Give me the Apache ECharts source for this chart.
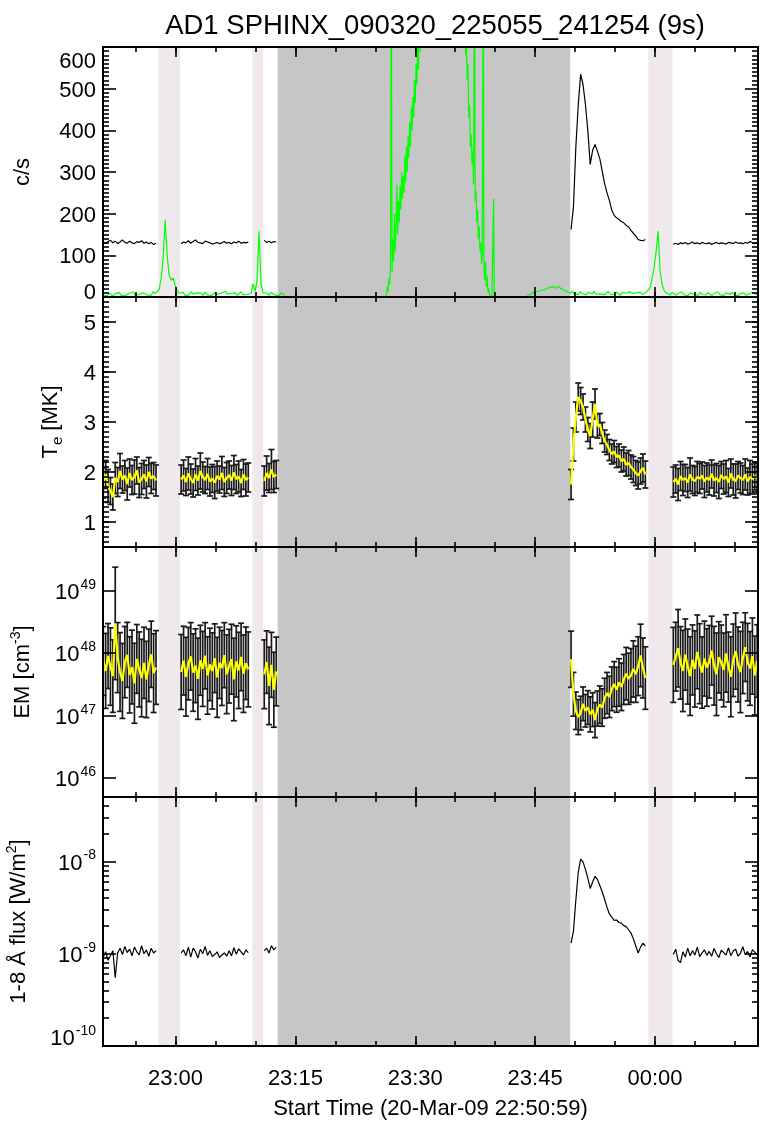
<!DOCTYPE html>
<html><head><meta charset="utf-8">
<script src="https://cdn.jsdelivr.net/npm/echarts@6/dist/echarts.min.js"></script>
<style>html,body{margin:0;padding:0;background:#fff}#c{width:760px;height:1123px}</style>
</head><body><div id="c"></div>
<script>
const FONT = '"Liberation Sans", Arial, Helvetica, sans-serif';
const TITLE = 'AD1 SPHINX_090320_225055_241254 (9s)';
const X_TITLE = 'Start Time (20-Mar-09 22:50:59)';

const XMIN = 50.917, XMAX = 132.9;
const tickTimes = [60, 75, 90, 105, 120];
const tickLabels = ['23:00', '23:15', '23:30', '23:45', '00:00'];
const minorTimes = [55, 65, 70, 80, 85, 95, 100, 110, 115, 125, 130];

const lightBands = [[57.84, 60.55], [69.60, 70.98], [119.16, 122.22]];
const darkBands = [[72.78, 109.40]];

const STEP = 0.3;
const segStart = [50.95, 60.7, 71.1, 109.5, 122.3];
const segCount = [23, 29, 6, 32, 36];

const counts = [
  131,129,133,136,130,134,128,132,137,131,129,134,130,128,133,131,135,129,132,128,131,126,129,
  128,132,130,135,129,133,137,131,130,128,134,132,130,127,129,131,128,130,133,129,131,128,132,130,134,129,131,130,132,
  136,131,134,130,133,132,
  162,215,360,460,535,510,462,400,318,352,366,350,332,302,272,250,232,208,196,190,186,181,178,172,168,160,153,146,138,136,135,138,
  127,129,126,130,128,131,127,129,132,128,130,127,131,129,128,130,126,129,131,128,130,129,127,131,130,128,132,129,130,128,131,129,133,130,128,131
];
const te = [
  1.78,1.95,1.72,1.62,1.50,1.88,1.80,2.02,1.85,1.93,1.76,1.98,1.84,1.90,2.03,1.79,1.86,1.95,1.81,2.00,1.87,1.92,1.83,
  1.85,1.93,1.80,1.97,1.86,1.78,1.95,1.83,2.02,1.90,1.84,1.96,1.81,1.87,1.79,1.92,1.85,1.98,1.80,1.88,1.94,1.83,1.99,1.86,1.91,1.78,1.95,1.84,1.89,
  1.82,1.98,1.88,2.05,1.90,1.95,
  1.75,2.55,3.10,3.50,3.42,3.30,3.05,2.85,2.72,3.05,3.36,2.92,2.95,2.78,2.62,2.55,2.44,2.36,2.41,2.30,2.33,2.22,2.26,2.15,2.18,2.10,2.05,1.98,1.93,2.02,2.08,1.95,
  1.80,1.86,1.75,1.92,1.84,1.88,1.79,1.95,1.85,1.82,1.90,1.87,1.93,1.81,1.89,1.84,1.96,1.83,1.88,1.80,1.94,1.86,1.91,1.79,1.97,1.85,1.82,1.93,1.88,1.84,1.95,1.81,1.90,1.86,1.92,1.87
];
const teErr = [
  0.30,0.28,0.33,0.27,0.26,0.31,0.29,0.35,0.27,0.30,0.32,0.28,0.29,0.34,0.27,0.30,0.31,0.28,0.33,0.29,0.30,0.27,0.31,
  0.29,0.31,0.27,0.33,0.30,0.28,0.32,0.29,0.36,0.30,0.27,0.31,0.29,0.28,0.32,0.30,0.27,0.33,0.29,0.31,0.28,0.30,0.34,0.29,0.31,0.27,0.30,0.32,0.29,
  0.30,0.34,0.29,0.40,0.31,0.28,
  0.30,0.33,0.30,0.28,0.27,0.26,0.25,0.24,0.25,0.35,0.30,0.24,0.22,0.21,0.22,0.20,0.21,0.20,0.22,0.21,0.23,0.22,0.24,0.23,0.25,0.24,0.26,0.25,0.27,0.26,0.28,0.27,
  0.30,0.28,0.32,0.29,0.31,0.27,0.30,0.33,0.28,0.29,0.31,0.30,0.27,0.32,0.29,0.30,0.28,0.31,0.29,0.33,0.27,0.30,0.32,0.28,0.29,0.31,0.34,0.28,0.30,0.29,0.31,0.27,0.33,0.30,0.28,0.31
];
const em47 = [
  7.5,5.2,9.0,6.1,4.3,30,8.5,5.0,3.6,7.2,9.4,4.5,6.0,3.3,8.1,5.5,4.0,7.0,3.8,6.4,9.6,4.8,5.9,
  5.0,7.6,4.2,6.8,8.9,4.9,6.3,3.9,7.7,5.6,9.1,4.4,6.6,5.2,8.3,4.1,7.0,5.8,9.3,4.6,6.2,8.0,3.8,7.4,5.3,8.7,4.7,6.9,5.5,
  4.6,7.2,3.0,6.5,2.6,5.1,
  8.0,2.2,1.2,0.95,1.10,1.55,1.20,1.35,1.05,1.25,0.85,1.30,1.50,1.35,1.90,2.30,2.00,2.70,3.20,2.60,3.40,2.90,3.80,4.70,3.90,4.40,5.60,4.60,6.20,9.20,5.80,4.00,
  6.5,8.8,12.0,7.0,5.2,9.5,6.1,4.3,7.8,5.6,10.5,6.8,4.9,8.2,5.9,7.3,11.0,6.3,4.6,8.6,7.1,5.4,9.9,6.0,4.2,7.7,10.8,6.6,5.0,8.4,12.5,7.2,5.7,9.0,4.4,7.5
];
const emErrDex = [
  0.55,0.60,0.52,0.62,0.58,0.90,0.56,0.63,0.60,0.57,0.52,0.61,0.59,0.64,0.55,0.60,0.62,0.57,0.61,0.58,0.53,0.63,0.59,
  0.60,0.55,0.63,0.58,0.54,0.62,0.59,0.65,0.56,0.60,0.53,0.62,0.58,0.61,0.55,0.64,0.57,0.60,0.52,0.63,0.59,0.56,0.66,0.57,0.61,0.54,0.62,0.58,0.60,
  0.55,0.50,0.62,0.52,0.60,0.55,
  0.45,0.35,0.30,0.28,0.27,0.27,0.26,0.27,0.28,0.27,0.28,0.28,0.30,0.30,0.32,0.33,0.33,0.35,0.36,0.36,0.38,0.38,0.40,0.42,0.41,0.43,0.45,0.45,0.47,0.50,0.48,0.50,
  0.60,0.55,0.62,0.58,0.65,0.57,0.60,0.63,0.56,0.61,0.59,0.64,0.57,0.60,0.62,0.58,0.55,0.63,0.66,0.57,0.60,0.59,0.62,0.56,0.64,0.58,0.61,0.60,0.65,0.57,0.55,0.62,0.59,0.61,0.63,0.58
];
const flux9 = [
  0.92,1.05,0.85,0.95,1.08,0.55,1.02,1.15,0.98,1.20,1.03,1.12,0.95,1.18,1.05,0.97,1.22,1.00,1.10,0.94,1.15,1.02,1.08,
  1.02,1.10,0.95,1.18,0.92,1.15,1.05,0.90,1.12,1.00,1.20,0.96,1.08,0.93,0.98,1.05,0.91,0.97,1.02,0.94,1.08,0.95,1.16,0.99,1.13,1.05,0.97,1.10,1.03,
  1.08,1.15,1.02,1.22,1.10,1.17,
  1.30,1.75,3.80,7.60,10.6,9.9,8.2,6.6,5.1,6.0,6.9,6.4,5.5,4.7,3.9,3.2,2.7,2.50,2.30,2.32,2.18,2.15,2.02,1.97,1.82,1.68,1.45,1.22,1.02,1.18,1.30,1.22,
  0.98,1.12,0.85,0.80,1.05,0.92,1.15,0.95,1.08,0.97,1.18,0.93,1.02,1.10,0.96,1.06,0.94,1.14,1.00,0.91,1.09,1.03,0.97,1.16,0.95,1.07,1.12,0.94,1.01,1.19,0.98,1.06,0.92,1.11,1.04,0.97
];
const fluxLevel = 3.8e-9;

const greenStart = [50.95, 86.3, 95.8, 103.9];
const greenStep = [0.25, 0.1, 0.1, 0.25];
const greenQuiet1 = [
  4,7,3,9,5,2,8,6,11,4,7,3,6,9,5,12,4,8,6,3,10,7,5,9,4,13,8,
  12,18,45,95,185,100,52,40,46,28,16,
  9,6,11,4,8,5,13,7,3,10,6,9,4,12,5,8,3,7,11,6,4,9,5,14,7,3,8,6,10,4,7,12,5,9,6,8,
  8,32,14,40,158,30,10,
  6,9,4,11,7,5,8,3,10,6,4
];
const greenRise = [
  0,8,25,12,45,30,70,900,60,140,85,200,110,175,270,150,230,180,265,210,
  300,235,290,250,340,275,360,300,385,335,420,360,455,400,480,430,520,465,560,510,
  600,545,640,590,680,650,760,820
];
const greenFall = [
  820,700,760,640,690,580,620,520,560,430,460,360,390,320,350,270,900,230,255,180,
  210,140,170,110,130,80,105,900,70,40,85,25,50,10,20,4,0,0,0,0,235,0,0
];
const greenQuiet2 = [
  6,9,5,11,8,13,10,15,12,18,16,22,19,25,28,21,26,23,18,20,14,
  12,9,14,7,11,6,13,8,10,5,12,9,7,14,6,10,8,11,5,9,13,7,10,6,12,8,4,11,7,9,6,13,8,5,10,7,12,6,9,11,
  14,22,45,72,110,158,60,30,16,10,
  8,5,11,7,4,9,6,12,5,8,3,10,7,6,9,4,11,6,8,5,10,7,3,9,6,12,5,8,4,10,7,6,11,5,9,3,8,6,10,4,7,9,5,11,6,8
];

const times = [];
segStart.forEach((s, i) => { for (let k = 0; k < segCount[i]; k++) times.push(+(s + k * STEP).toFixed(3)); });
function lineData(vals, scale) {
  const out = []; let idx = 0;
  segCount.forEach((n, si) => {
    if (si) out.push([segStart[si] - 0.05, '-']);
    for (let k = 0; k < n; k++) { out.push([times[idx], vals[idx] * scale]); idx++; }
  });
  return out;
}
const greenSegs = [greenQuiet1, greenRise, greenFall, greenQuiet2];
const greenData = [];
greenSegs.forEach((seg, si) => {
  if (si) greenData.push([greenStart[si] - 0.05, '-']);
  seg.forEach((v, k) => greenData.push([+(greenStart[si] + k * greenStep[si]).toFixed(3), v]));
});
const teBars = times.map((t, i) => [t, te[i] - teErr[i], te[i] + teErr[i]]);
const emBars = times.map((t, i) => [t, em47[i] * 1e47 / Math.pow(10, emErrDex[i]), em47[i] * 1e47 * Math.pow(10, emErrDex[i])]);

const AX = '#000';
const GRID_L = 103, GRID_W = 655;
const gridTops = [47, 297, 547, 797];
const gridH = [250, 250, 250, 249];

const countMajor = [0, 100, 200, 300, 400, 500, 600];
const teMajor = [1, 2, 3, 4, 5];
const emMajor = [1e46, 1e47, 1e48, 1e49];
const fluxMajor = [1e-10, 1e-9, 1e-8];

const labRich = {
  b: {fontSize: 22, fontFamily: FONT, color: '#000', lineHeight: 26, verticalAlign: 'bottom'},
  s: {fontSize: 14, fontFamily: FONT, color: '#000', lineHeight: 26, verticalAlign: 'top', padding: [0, 0, 0, 1]},
  g26: {fontSize: 10, lineHeight: 26},
  g12: {fontSize: 10, lineHeight: 12},
  g18: {fontSize: 10, lineHeight: 18}
};
const nameRich = {
  sub: {fontSize: 15, fontFamily: FONT, color: '#000', verticalAlign: 'bottom', lineHeight: 28},
  sup: {fontSize: 14, fontFamily: FONT, color: '#000', verticalAlign: 'top', lineHeight: 28},
  n: {fontSize: 22, fontFamily: FONT, color: '#000', lineHeight: 28}
};
const pow10 = v => '{b|10}{s|' + Math.round(Math.log10(v)) + '}';

const yCfg = [
  {type: 'value', min: 0, max: 600, major: countMajor,
    fmt: v => v === 600 ? '{g26| }\n{b|600}' : (v === 0 ? '{b|0}\n{g12| }' : '{b|' + v + '}'),
    name: '{n|c/s}', gap: 66},
  {type: 'value', min: 0.5, max: 5.5, major: teMajor, fmt: v => '{b|' + v + '}',
    name: '{n|T}{sub|e}{n| [MK]}', gap: 38},
  {type: 'log', min: 5e45, max: 5e49, major: emMajor, fmt: pow10,
    name: '{n|EM [cm}{sup|-3}{n|]}', gap: 66},
  {type: 'log', min: 1e-10, max: 5e-8, major: fluxMajor,
    fmt: v => Math.round(Math.log10(v)) === -10 ? pow10(v) + '\n{g18| }' : pow10(v),
    name: '{n|1-8 Å flux [W/m}{sup|2}{n|]}', gap: 70}
];

function xAxesFor(gi, last) {
  const mk = pos => ({
    gridIndex: gi, type: 'value', min: XMIN, max: XMAX, z: 10, silent: true, position: pos,
    splitLine: {show: false},
    axisLine: {show: true, onZero: false, lineStyle: {color: AX, width: 2}},
    axisTick: {show: false},
    axisLabel: {show: false}
  });
  const axes = [mk('bottom'), mk('top')];
  if (last) {
    axes[0].axisLabel = {show: true, customValues: tickTimes, margin: 22, fontSize: 22, color: '#000', fontFamily: FONT,
      formatter: v => tickLabels[tickTimes.findIndex(t => Math.abs(t - v) < 1e-6)]};
    axes[0].name = X_TITLE;
    axes[0].nameLocation = 'middle';
    axes[0].nameGap = 52;
    axes[0].nameTextStyle = {fontSize: 22, color: '#000', fontFamily: FONT};
  }
  return axes;
}
function yAxesFor(gi) {
  const c = yCfg[gi];
  const mk = pos => ({
    gridIndex: gi, type: c.type, min: c.min, max: c.max, z: 10, silent: true, position: pos,
    splitLine: {show: false},
    axisLine: {show: true, onZero: false, lineStyle: {color: AX, width: 2}},
    axisTick: {show: false},
    axisLabel: {show: false}
  });
  const axes = [mk('left'), mk('right')];
  axes[0].axisLabel = {show: true, customValues: c.major, margin: 7, fontSize: 22, color: '#000', fontFamily: FONT,
    formatter: c.fmt, rich: labRich};
  axes[0].name = c.name;
  axes[0].nameLocation = 'middle';
  axes[0].nameGap = c.gap;
  axes[0].nameTextStyle = {fontSize: 22, color: '#000', fontFamily: FONT, rich: nameRich};
  return axes;
}
function mainGrids() {
  return gridTops.map((t, i) => ({left: GRID_L, top: t, width: GRID_W, height: gridH[i], containLabel: false, outerBoundsMode: 'none'}));
}
function mainX() { const a = []; for (let gi = 0; gi < 4; gi++) a.push(...xAxesFor(gi, gi === 3)); return a; }
function mainY() { const a = []; for (let gi = 0; gi < 4; gi++) a.push(...yAxesFor(gi)); return a; }

const yRef = [300, 3, 1e47, 1e-9];

function bandSeries(gi, bands, color) {
  return {
    type: 'custom', xAxisIndex: 2 * gi, yAxisIndex: 2 * gi, z: 1, silent: true, animation: false,
    encode: {x: [0, 1], y: 2},
    data: bands.map(b => [b[0], b[1], yRef[gi]]),
    renderItem: (params, api) => {
      const cs = params.coordSys;
      const xa = api.coord([api.value(0), api.value(2)])[0];
      const xb = api.coord([api.value(1), api.value(2)])[0];
      return {type: 'rect', shape: {x: xa, y: cs.y, width: xb - xa, height: cs.height}, style: {fill: color}};
    }
  };
}
function errSeries(gi, data) {
  return {
    type: 'custom', xAxisIndex: 2 * gi, yAxisIndex: 2 * gi, z: 3, silent: true, animation: false, clip: true,
    encode: {x: 0, y: [1, 2]},
    data,
    renderItem: (params, api) => {
      const t = api.value(0);
      const a = api.coord([t, api.value(1)]), b = api.coord([t, api.value(2)]);
      const w = 3, st = {stroke: '#1a1a1a', lineWidth: 1.7};
      return {type: 'group', children: [
        {type: 'line', shape: {x1: a[0], y1: a[1], x2: b[0], y2: b[1]}, style: st},
        {type: 'line', shape: {x1: a[0] - w, y1: a[1], x2: a[0] + w, y2: a[1]}, style: st},
        {type: 'line', shape: {x1: b[0] - w, y1: b[1], x2: b[0] + w, y2: b[1]}, style: st}
      ]};
    }
  };
}
function lineSeries(gi, data, color, width, z, extra) {
  return Object.assign({
    type: 'line', xAxisIndex: 2 * gi, yAxisIndex: 2 * gi, data, z, silent: true, animation: false,
    showSymbol: false, symbol: 'none', connectNulls: false, clip: true,
    lineStyle: {color, width}, itemStyle: {color}
  }, extra || {});
}

const series = [];
for (let gi = 0; gi < 4; gi++) {
  series.push(bandSeries(gi, darkBands, '#c6c6c6'));
  series.push(bandSeries(gi, lightBands, '#efe9ee'));
}
series.push(lineSeries(0, greenData, '#00ff00', 1.2, 3));
series.push(lineSeries(0, lineData(counts, 1), '#000', 1.2, 4));
series.push(errSeries(1, teBars));
series.push(lineSeries(1, lineData(te, 1), '#ffff00', 2.2, 4));
series.push(errSeries(2, emBars));
series.push(lineSeries(2, lineData(em47, 1e47), '#ffff00', 2.2, 4));
series.push(lineSeries(3, lineData(flux9, 1e-9), '#000', 1.2, 4, {
  markLine: {silent: true, symbol: 'none', animation: false, label: {show: false},
    lineStyle: {color: '#0000ff', width: 2.5, type: 'solid'}, data: [{yAxis: fluxLevel}]}
}));

const chart = echarts.init(document.getElementById('c'), null, {renderer: 'canvas', width: 760, height: 1123});
chart.setOption({
  backgroundColor: '#fff',
  animation: false,
  textStyle: {fontFamily: FONT},
  title: {text: TITLE, left: 430, top: 7, textAlign: 'center',
    textStyle: {fontSize: 27.5, fontWeight: 'normal', color: '#000', fontFamily: FONT}},
  grid: mainGrids(), xAxis: mainX(), yAxis: mainY(), series
});

// ---------- IDL-style inward tick marks ----------
// Each tick family is drawn by ECharts' own axis ticks (interval counted from min) on an
// overlay grid whose edges sit on the first and last tick of that family; the edges are
// read from the panel's own axis scale.
function pxX(t) {
  const p = chart.convertToPixel({gridIndex: 0}, [t, yRef[0]]);
  let x = Array.isArray(p) ? p[0] : NaN;
  if (!(x >= GRID_L - 1 && x <= GRID_L + GRID_W + 1)) x = GRID_L + (t - XMIN) / (XMAX - XMIN) * GRID_W;
  return x;
}
function pxY(gi, v) {
  const c = yCfg[gi], T = gridTops[gi], B = T + gridH[gi];
  const p = chart.convertToPixel({gridIndex: gi}, [tickTimes[2], v]);
  let y = Array.isArray(p) ? p[1] : NaN;
  if (!(y >= T - 1 && y <= B + 1)) {
    const f = c.type === 'log'
      ? (Math.log10(v) - Math.log10(c.min)) / (Math.log10(c.max) - Math.log10(c.min))
      : (v - c.min) / (c.max - c.min);
    y = B - f * (B - T);
  }
  return y;
}
const tickLine = {color: AX, width: 1.6};
const auxGrids = [], auxX = [], auxY = [];
let nGrid = 4;
function xTickGrid(gi, t0, t1, interval, len) {
  const g = nGrid++;
  const l = pxX(t0), r = pxX(t1);
  auxGrids.push({left: l, top: gridTops[gi], width: r - l, height: gridH[gi], containLabel: false, outerBoundsMode: 'none'});
  ['bottom', 'top'].forEach(pos => auxX.push({gridIndex: g, type: 'value', position: pos, min: t0, max: t1, interval,
    z: 12, silent: true, splitLine: {show: false}, axisLabel: {show: false},
    axisLine: {show: false, onZero: false}, axisTick: {show: true, inside: true, length: len, lineStyle: tickLine}}));
  auxY.push({gridIndex: g, type: 'value', show: false, min: 0, max: 1});
}
function yTickGrid(gi, vTop, vBot, min, max, interval, len, minorSplit) {
  const g = nGrid++;
  const top = pxY(gi, vTop), bot = pxY(gi, vBot);
  auxGrids.push({left: GRID_L, top, width: GRID_W, height: bot - top, containLabel: false, outerBoundsMode: 'none'});
  ['left', 'right'].forEach(pos => auxY.push({gridIndex: g, type: 'value', position: pos, min, max, interval,
    z: 12, silent: true, splitLine: {show: false}, axisLabel: {show: false},
    axisLine: {show: false, onZero: false}, axisTick: {show: true, inside: true, length: len, lineStyle: tickLine},
    minorTick: minorSplit ? {show: true, splitNumber: minorSplit, length: 6, lineStyle: tickLine} : {show: false}}));
  auxX.push({gridIndex: g, type: 'value', show: false, min: 0, max: 1});
}
for (let gi = 0; gi < 4; gi++) {
  xTickGrid(gi, 55, 130, 5, 5);
  xTickGrid(gi, 60, 120, 15, 10);
}
// c/s: majors every 100, minors every 10
yTickGrid(0, 600, 0, 0, 600, 100, 13, 10);
// Te: majors at 1..5, minors every 0.1
yTickGrid(1, 5.4, 0.6, 0.6, 5.4, 0.1, 6, 0);
yTickGrid(1, 5, 1, 1, 5, 1, 13, 0);
// EM: decades only
yTickGrid(2, 1e49, 1e46, 46, 49, 1, 13, 0);
// flux: decades, and the 2..9 x decade minors (one family per multiplier, one decade apart)
yTickGrid(3, 1e-8, 1e-10, -10, -8, 1, 13, 0);
for (let m = 2; m <= 9; m++) {
  const vals = [m * 1e-10, m * 1e-9, m * 1e-8].filter(v => v <= 5e-8 * (1 + 1e-9));
  yTickGrid(3, vals[vals.length - 1], vals[0], 0, vals.length - 1, 1, 6, 0);
}

chart.setOption({
  grid: mainGrids().concat(auxGrids),
  xAxis: mainX().concat(auxX),
  yAxis: mainY().concat(auxY)
});
</script></body></html>
